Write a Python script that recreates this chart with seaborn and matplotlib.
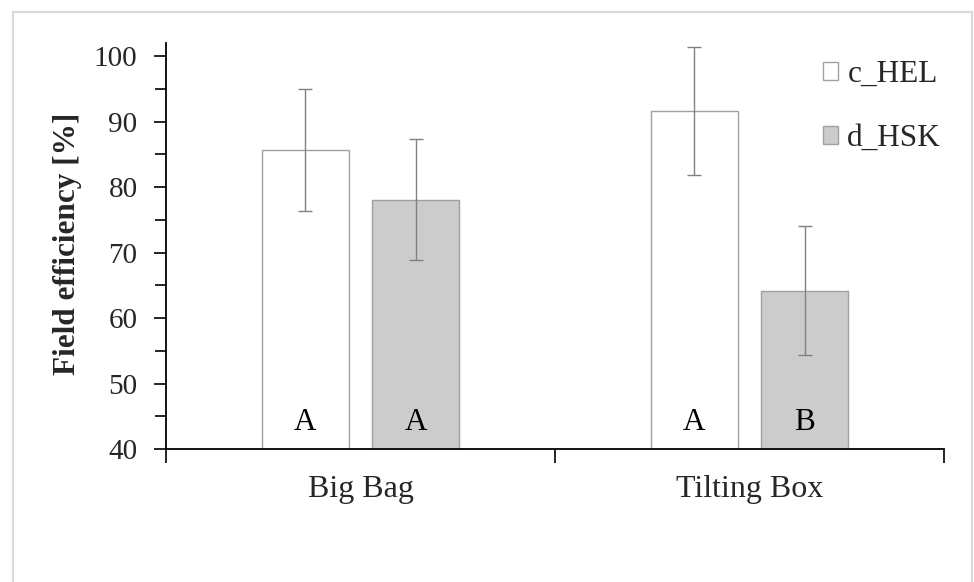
import pandas as pd
import matplotlib
matplotlib.use("Agg")
import matplotlib.pyplot as plt
from matplotlib.patches import Rectangle
from matplotlib.ticker import MultipleLocator, FixedLocator, NullFormatter
import seaborn as sns

# values
categories = ['Big Bag', 'Tilting Box']
series = ['c_HEL', 'd_HSK']
hel_mean = [85.7, 91.6]
hel_err = [9.3, 9.8]
hsk_mean = [78.1, 64.2]
hsk_err = [9.3, 9.9]
hel_letters = ['A', 'A']
hsk_letters = ['A', 'B']

df = pd.DataFrame({
    'category': categories * 2,
    'series': [series[0]] * 2 + [series[1]] * 2,
    'value': hel_mean + hsk_mean,
})
errors = {series[0]: hel_err, series[1]: hsk_err}
letters = {series[0]: hel_letters, series[1]: hsk_letters}

sns.set_theme(style="white")
plt.rcParams['font.family'] = ['Liberation Serif', 'DejaVu Serif']

fig = plt.figure(figsize=(9.74, 5.82), dpi=100)
ax = fig.add_axes([166 / 974, 1 - 449 / 582, 778 / 974, 406 / 582])

# light grey frame round the whole chart
fig.patches.append(Rectangle((13 / 974, -0.05), 959 / 974, 1.05 - 12 / 582,
                             transform=fig.transFigure, fill=False,
                             edgecolor='#d9d9d9', linewidth=1.5, zorder=0))

palette = {series[0]: 'white', series[1]: '#cccccc'}
sns.barplot(data=df, x='category', y='value', hue='series', order=categories,
            hue_order=series, palette=palette, width=0.566, gap=0.21,
            edgecolor='#a0a0a0', linewidth=1.0, errorbar=None, legend=False,
            saturation=1, ax=ax)

for name, container in zip(series, ax.containers):
    for i, bar in enumerate(container):
        xc = bar.get_x() + bar.get_width() / 2
        ax.errorbar(xc, bar.get_height(), yerr=errors[name][i], fmt='none',
                    ecolor='#808080', elinewidth=1.0, capsize=4.7,
                    capthick=1.0, zorder=3)
        ax.text(xc, 42.9, letters[name][i], ha='center', va='baseline',
                fontsize=22.5, color='black', zorder=4)

ax.set_xlim(-0.5, 1.5)
ax.set_ylim(40, 102)

# y axis
ax.yaxis.set_major_locator(MultipleLocator(10))
ax.yaxis.set_minor_locator(MultipleLocator(5))
ax.tick_params(axis='y', which='major', direction='out', length=9, width=1.2,
               pad=11.5, labelsize=21, left=True, color='black')
ax.tick_params(axis='y', which='minor', direction='out', length=8, width=1.2,
               left=True, color='black')
ax.set_yticks([40, 50, 60, 70, 80, 90, 100])

# x axis: ticks at category borders, labels at centres
ax.xaxis.set_major_locator(FixedLocator([-0.5, 0.5, 1.5]))
ax.xaxis.set_major_formatter(NullFormatter())
ax.xaxis.set_minor_locator(FixedLocator([0, 1]))
ax.set_xticklabels(categories, minor=True)
ax.tick_params(axis='x', which='major', direction='out', length=10, width=1.2,
               bottom=True, color='black')
ax.tick_params(axis='x', which='minor', length=0, pad=19, labelsize=23)

ax.set_xlabel('')
ax.set_ylabel('Field efficiency [%]', fontsize=22.5, fontweight='bold')
ax.yaxis.set_label_coords(-0.108, 0.505)

for side in ['top', 'right']:
    ax.spines[side].set_visible(False)
for side in ['left', 'bottom']:
    ax.spines[side].set_color('black')
    ax.spines[side].set_linewidth(1.3)

handles = [Rectangle((0, 0), 1, 1, facecolor=palette[s], edgecolor='#a0a0a0',
                     linewidth=1.0) for s in series]
ax.legend(handles, series, loc='upper left', bbox_to_anchor=(823 / 974, 1 - 60 / 582),
          bbox_transform=fig.transFigure, frameon=False, fontsize=22.5,
          handlelength=0.48, handleheight=0.48, handletextpad=0.3,
          labelspacing=1.12, borderpad=0, borderaxespad=0)

fig.savefig('out.png', dpi=100, facecolor='white')
